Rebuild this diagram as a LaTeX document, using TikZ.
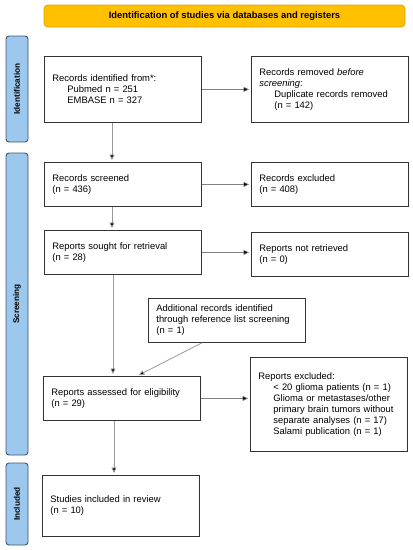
\documentclass[tikz,border=0pt]{standalone}
\usepackage{fontspec}
\setmainfont{Liberation Sans}
\usetikzlibrary{arrows.meta,positioning}
\definecolor{hdrfill}{HTML}{FFC000}
\definecolor{hdrdraw}{HTML}{D9A300}
\definecolor{barfill}{HTML}{9DC8EE}
\definecolor{bardraw}{HTML}{3E5670}
\definecolor{boxdraw}{HTML}{333333}
\definecolor{linegray}{HTML}{999999}
\definecolor{hlinegray}{HTML}{808080}
\tikzset{
  box/.style={draw=boxdraw, line width=0.8pt, fill=white, rectangle, inner xsep=8pt, inner ysep=0pt,
    text width=141pt, align=left, font=\fontsize{9.4}{11}\selectfont, anchor=north west},
  sidebar/.style={draw=bardraw, line width=0.9pt, fill=barfill, rounded corners=3pt},
  sidelabel/.style={rotate=90, font=\bfseries\fontsize{8.2}{9}\selectfont},
  arr/.style={draw=linegray, line width=0.8pt, -{Triangle[length=5.5pt,width=5pt,fill=black]}, shorten >=2pt, color=linegray},
  harr/.style={draw=hlinegray, line width=0.6pt, -{Triangle[length=5.5pt,width=5pt,fill=black]}, shorten >=2pt, color=hlinegray}
}
\newcommand{\ind}{\hspace*{15pt}}
\begin{document}
\begin{tikzpicture}[x=1pt,y=-1pt]
\useasboundingbox (0,0) rectangle (413,550);
% header
\node[draw=hdrdraw, fill=hdrfill, line width=0.8pt, rounded corners=4pt, minimum width=361pt, minimum height=22pt, inner sep=0pt,
  font=\bfseries\fontsize{9.4}{10}\selectfont] (hdr) at (224.5,16) {Identification of studies via databases and registers};
% side bars
\draw[sidebar] (6,36) rectangle (28,142);
\node[sidelabel] (lid) at (17,89) {Identification};
\draw[sidebar] (6,153) rectangle (28,455);
\node[sidelabel] (lsc) at (17,304) {Screening};
\draw[sidebar] (6,463) rectangle (28,545);
\node[sidelabel] (lin) at (17,504) {Included};
% boxes
\node[box, minimum height=66pt] (ident) at (44,56) {Records identified from*:\\\ind Pubmed n = 251\\\ind EMBASE n = 327};
\node[box, minimum height=66pt] (removed) at (251,56) {Records removed \textit{before}\\\textit{screening}:\\\ind Duplicate records removed\\\ind (n = 142)\\[8pt]};
\node[box, minimum height=44pt] (screened) at (44,162) {Records screened\\(n = 436)};
\node[box, minimum height=44pt] (excl) at (251,162) {Records excluded\\(n = 408)};
\node[box, minimum height=44pt] (sought) at (44,230) {Reports sought for retrieval\\(n = 28)};
\node[box, minimum height=44pt] (notret) at (251,232) {Reports not retrieved\\(n = 0)};
\node[box, minimum height=44pt] (addl) at (148,298) {Additional records identified\\through reference list screening\\(n = 1)};
\node[box, minimum height=44pt] (assess) at (43,376) {Reports assessed for eligibility\\(n = 29)};
\node[box, minimum height=94pt] (rexcl) at (250,357) {Reports excluded:\\\ind \textless{} 20 glioma patients (n = 1)\\\ind Glioma or metastases/other\\\ind primary brain tumors without\\\ind separate analyses (n = 17)\\\ind Salami publication (n = 1)};
\node[box, minimum height=61pt] (incl) at (42,475) {Studies included in review\\(n = 10)\\[10pt]};
% column coordinates
\coordinate (c112) at (112,0);
\coordinate (c113) at (113,0);
\coordinate (c114) at (114,0);
\coordinate (c137) at (137,0);
\coordinate (c202) at (202,0);
% connectors
\draw[harr] (ident.east) -- (removed.west);
\draw[harr] (screened.east) -- (excl.west);
\draw[harr] (sought.east) -- (sought.east -| notret.west);
\draw[harr] (assess.east) -- (assess.east -| rexcl.west);
\draw[arr] (ident.south -| c112) -- (screened.north -| c112);
\draw[arr] (screened.south -| c112) -- (sought.north -| c112);
\draw[arr] (sought.south -| c113) -- (assess.north -| c113);
\draw[arr] (addl.south -| c202) -- (assess.north -| c137);
\draw[arr] (assess.south -| c114) -- (incl.north -| c114);
\end{tikzpicture}
\end{document}
